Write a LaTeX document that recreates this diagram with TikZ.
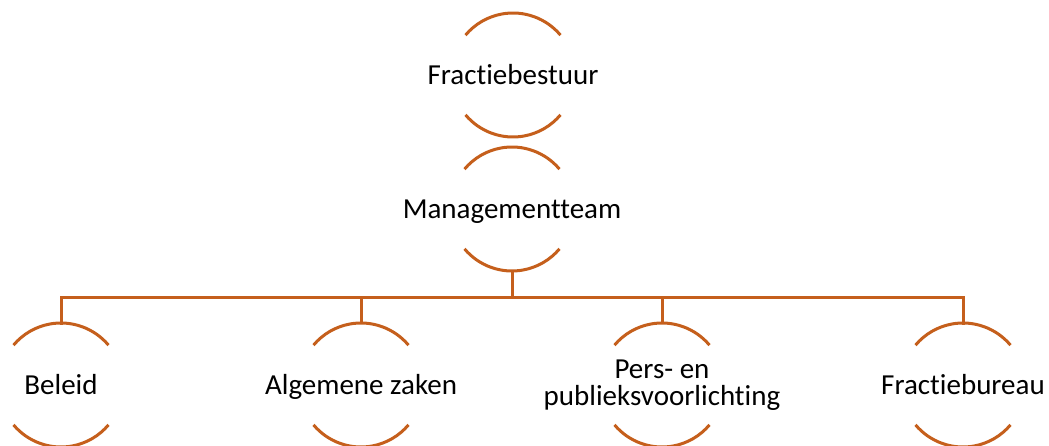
\documentclass[tikz,border=0pt]{standalone}
\usepackage{fontspec}
\setmainfont{Carlito}[Ligatures={NoCommon,NoRequired,NoContextual}]
\definecolor{arcol}{RGB}{197,95,28}
\begin{document}
\begin{tikzpicture}[x=1pt,y=1pt,
  lbl/.style={inner sep=0pt,font=\fontsize{29}{26.5}\selectfont,text height=18.7pt,text depth=0pt},
  lbl2/.style={inner sep=0pt,font=\fontsize{29}{26.5}\selectfont,align=center},
  arcline/.style={draw=arcol,line width=3pt},
  conn/.style={draw=arcol,line width=3pt}]
\useasboundingbox (0,0) rectangle (1049,-446);
\def\R{62}
% nodes
\node[lbl] (fb) at (513,-75) {Fractiebestuur};
\node[lbl] (mt) at (512,-209) {Managementteam};
\node[lbl] (c1) at (61,-385) {Beleid};
\node[lbl] (c2) at (361,-385) {Algemene zaken};
\node[lbl2] (c3) at (662,-385) {Pers- en\\publieksvoorlichting};
\node[lbl] (c4) at (963,-385) {Fractiebureau};
% circle arcs
\foreach \n in {fb,mt,c1,c2,c3,c4}{
  \draw[arcline] ([shift={(40:\R)}]\n.center) arc[start angle=40,end angle=140,radius=\R];
  \draw[arcline] ([shift={(220:\R)}]\n.center) arc[start angle=220,end angle=320,radius=\R];
  \coordinate (\n-t) at ([yshift=\R]\n.center);
  \coordinate (\n-b) at ([yshift=-\R]\n.center);
}
\coordinate (bar) at (0,-297);
% connectors
\draw[conn] (mt-b) -- (mt-b |- bar);
\draw[conn,line cap=rect] (c1-t) -- (c1-t |- bar) -- (c4-t |- bar) -- (c4-t);
\draw[conn] (c2-t) -- (c2-t |- bar);
\draw[conn] (c3-t) -- (c3-t |- bar);
\end{tikzpicture}
\end{document}
